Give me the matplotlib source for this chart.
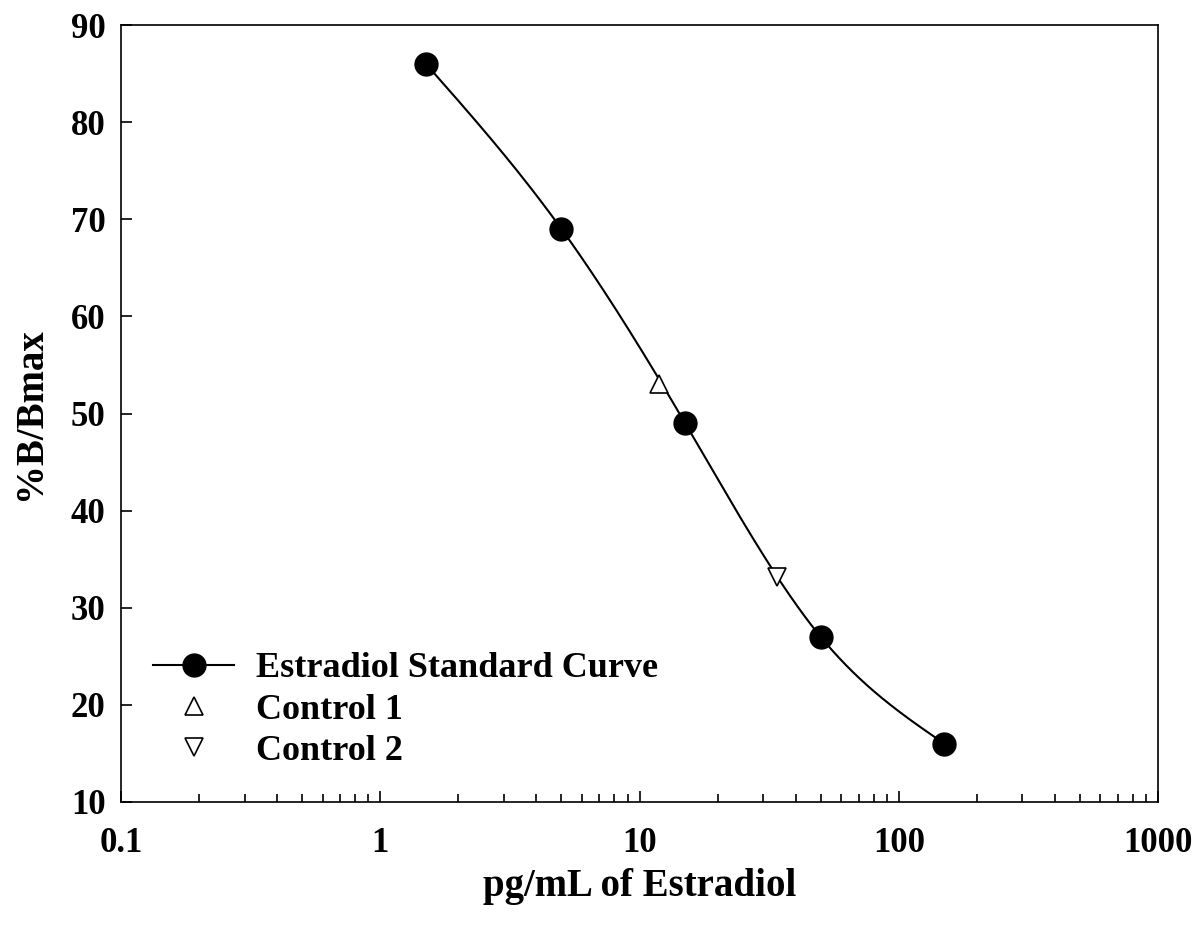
import numpy as np
import matplotlib
matplotlib.use('Agg')
import matplotlib.pyplot as plt

# Standard curve and controls
std_conc = [1.5, 5, 15, 50, 150]
std_bbmax = [86, 69, 49, 27, 16]
ctrl1_conc = [11.9]
ctrl1_bbmax = [53]
ctrl2_conc = [34]
ctrl2_bbmax = [33.2]
xticks = [0.1, 1, 10, 100, 1000]
xtick_labels = ['0.1', '1', '10', '100', '1000']
yticks = [10, 20, 30, 40, 50, 60, 70, 80, 90]


def natural_spline(x, y, xs):
    # natural cubic spline through the points
    x = np.asarray(x, float)
    y = np.asarray(y, float)
    n = len(x)
    h = np.diff(x)
    A = np.zeros((n, n))
    b = np.zeros(n)
    A[0, 0] = A[-1, -1] = 1
    for i in range(1, n - 1):
        A[i, i - 1] = h[i - 1]
        A[i, i] = 2 * (h[i - 1] + h[i])
        A[i, i + 1] = h[i]
        b[i] = 3 * ((y[i + 1] - y[i]) / h[i] - (y[i] - y[i - 1]) / h[i - 1])
    c = np.linalg.solve(A, b)
    out = np.empty_like(xs)
    for k, xv in enumerate(xs):
        i = min(max(np.searchsorted(x, xv) - 1, 0), n - 2)
        d = (c[i + 1] - c[i]) / (3 * h[i])
        bb = (y[i + 1] - y[i]) / h[i] - h[i] * (2 * c[i] + c[i + 1]) / 3
        t = xv - x[i]
        out[k] = y[i] + bb * t + c[i] * t ** 2 + d * t ** 3
    return out


def main():
    plt.rcParams['font.family'] = 'Liberation Serif'
    plt.rcParams['font.weight'] = 'bold'

    fig = plt.figure(figsize=(11.97, 9.26), dpi=100)
    ax = fig.add_axes([121 / 1197, 1 - 802 / 926, (1158 - 121) / 1197, (802 - 25) / 926])

    lx = np.log10(std_conc)
    xs = np.linspace(lx[0], lx[-1], 300)
    ys = natural_spline(lx, std_bbmax, xs)
    ax.plot(10 ** xs, ys, color='black', lw=1.5)
    ax.plot(std_conc, std_bbmax, 'o', color='black', ms=16.5)
    # legend proxy for the curve
    ax.plot([], [], '-o', color='black', ms=16.5, lw=1.5, label='Estradiol Standard Curve')
    ax.plot(ctrl1_conc, ctrl1_bbmax, '^', mfc='white', mec='black', ms=12.5, mew=1.2, label='Control 1')
    ax.plot(ctrl2_conc, ctrl2_bbmax, 'v', mfc='white', mec='black', ms=12.5, mew=1.2, label='Control 2')

    ax.set_xscale('log')
    ax.set_xlim(0.1, 1000)
    ax.set_ylim(10, 90)
    ax.set_xticks(xticks)
    ax.set_xticklabels(xtick_labels)
    ax.set_yticks(yticks)
    ax.tick_params(axis='both', which='major', direction='in', length=8, width=1.2,
                   labelsize=25)
    ax.tick_params(axis='x', which='minor', direction='in', length=6, width=1.2)
    ax.tick_params(axis='x', pad=18)
    ax.tick_params(axis='y', pad=11)
    for s in ax.spines.values():
        s.set_linewidth(1.2)

    ax.set_xlabel('pg/mL of Estradiol', fontsize=28, fontweight='bold', labelpad=6)
    ax.set_ylabel('%B/Bmax', fontsize=28, fontweight='bold', labelpad=16)

    ax.legend(loc='upper left', frameon=False, fontsize=26,
              handlelength=2.25, handletextpad=0.6, labelspacing=0.22,
              borderpad=0, borderaxespad=0, bbox_to_anchor=(0.031, 0.193))

    fig.savefig('out.png', dpi=100)


if __name__ == "__main__":
    main()
